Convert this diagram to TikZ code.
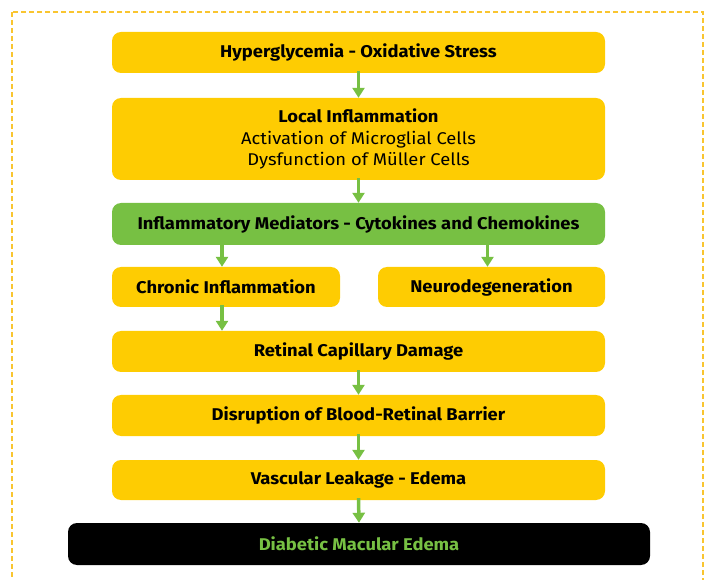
\documentclass[tikz,border=0pt]{standalone}
\usepackage{fontspec}
\setmainfont{Fira Sans}[FakeStretch=1.08]
\usetikzlibrary{arrows.meta}
\definecolor{ybox}{HTML}{FECC02}
\definecolor{gbox}{HTML}{77C043}
\definecolor{frame}{HTML}{F9C530}
\begin{document}
\begin{tikzpicture}[x=1pt,y=-1pt,
  box/.style={fill=ybox,rounded corners=9pt,inner sep=0pt,align=center,font=\fontsize{17}{21.5}\selectfont\bfseries},
  arr/.style={draw=gbox,line width=3.5pt,-{Triangle[width=12pt,length=10pt]}}]
\useasboundingbox (0,0) rectangle (705,580);
\draw[frame,line width=1.3pt,dash pattern=on 5pt off 3pt] (12,12) rectangle (703,600);
\node[box,minimum width=493pt,minimum height=41pt] (h) at (358.5,52.5) {Hyperglycemia - Oxidative Stress};
\node[box,minimum width=493pt,minimum height=82pt] (l) at (358.5,139) {Local Inflammation\\\mdseries Activation of Microglial Cells\\\mdseries Dysfunction of Müller Cells};
\node[box,fill=gbox,minimum width=493pt,minimum height=42pt] (m) at (358.5,224) {Inflammatory Mediators - Cytokines and Chemokines};
\node[box,minimum width=228pt,minimum height=40pt] (c) at (226,287) {Chronic Inflammation};
\node[box,minimum width=227pt,minimum height=40pt] (n) at (491.5,287) {Neurodegeneration};
\node[box,minimum width=493pt,minimum height=41pt] (r) at (358.5,351.5) {Retinal Capillary Damage};
\node[box,minimum width=493pt,minimum height=41pt] (d) at (358.5,415.5) {Disruption of Blood-Retinal Barrier};
\node[box,minimum width=493pt,minimum height=40pt] (v) at (358.5,480) {Vascular Leakage - Edema};
\node[box,fill=black,text=gbox,minimum width=582pt,minimum height=42pt] (e) at (359,544) {Diabetic Macular Edema};
\draw[arr] ([yshift=2pt]h.south) -- (l.north);
\draw[arr] ([yshift=2pt]l.south) -- (m.north);
\draw[arr] ([yshift=2pt,xshift=-4pt]m.south -| c) -- ([xshift=-4pt]c.north);
\draw[arr] ([yshift=2pt,xshift=-4pt]m.south -| n) -- ([xshift=-4pt]n.north);
\draw[arr] ([yshift=2pt,xshift=-4pt]c.south) -- ([xshift=-4pt]r.north -| c);
\draw[arr] ([yshift=2pt]r.south) -- (d.north);
\draw[arr] ([yshift=2pt]d.south) -- (v.north);
\draw[arr] ([yshift=2pt]v.south) -- (e.north);
\end{tikzpicture}
\end{document}
